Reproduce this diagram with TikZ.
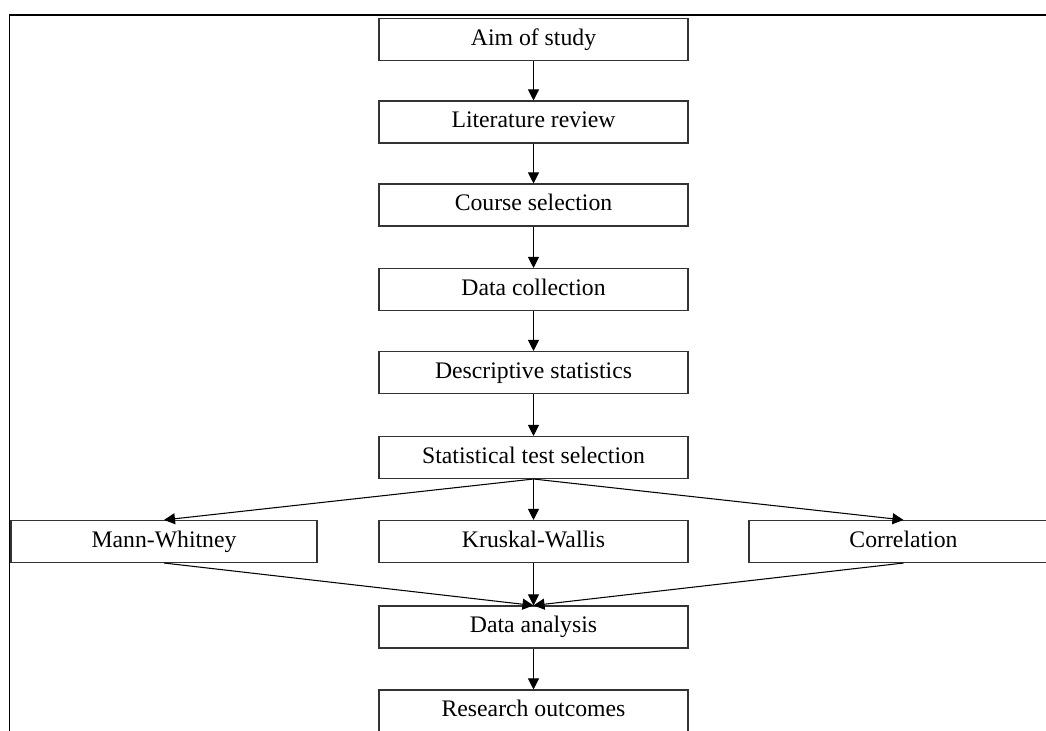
\documentclass[tikz,border=0pt]{standalone}
\usepackage{fontspec}
\setmainfont{Liberation Serif}
\usetikzlibrary{arrows.meta}
\tikzset{
  stepbox/.style={
    draw=black!80,
    line width=0.6pt,
    minimum width=6.18cm,
    minimum height=0.84cm,
    inner sep=0pt,
    text height=1.8ex,
    text depth=0.4ex,
    font=\fontsize{13.5}{16}\selectfont
  },
  flow/.style={
    line width=0.6pt,
    -{Triangle[length=2.2mm,width=2.2mm]}
  },
  frame/.style={line width=1.1pt, draw=black}
}

\begin{document}
\begin{tikzpicture}
  \useasboundingbox (0,0) rectangle (20.92,-14.62);
  \clip (0,0) rectangle (20.92,-14.62);

  % outer frame (only left and top visible)
  \draw[frame] (0.19,-14.62) |- (20.92,-0.30);

  % main column
  \foreach \name/\y/\txt in {aim/-0.79/Aim of study,
                             lit/-2.44/Literature review,
                             course/-4.10/Course selection,
                             coll/-5.79/Data collection,
                             desc/-7.45/Descriptive statistics,
                             stat/-9.15/Statistical test selection,
                             kw/-10.83/Kruskal-Wallis,
                             ana/-12.54/Data analysis,
                             res/-14.22/Research outcomes}{
    \node[stepbox] (\name) at (10.67,\y) {\txt};
  }

  % side tests
  \node[stepbox, minimum width=6.12cm] (mw) at (3.28,-10.83) {Mann-Whitney};
  \node[stepbox] (cor) at (18.07,-10.83) {Correlation};

  \foreach \a/\b in {aim/lit,lit/course,course/coll,coll/desc,desc/stat,stat/kw,kw/ana,ana/res}{
    \draw[flow] (\a) -- (\b);
  }

  \draw[flow] (stat.south) -- (mw.north);
  \draw[flow] (stat.south) -- (cor.north);
  \draw[flow] (mw.south) -- (ana.north);
  \draw[flow] (cor.south) -- (ana.north);

\end{tikzpicture}
\end{document}
